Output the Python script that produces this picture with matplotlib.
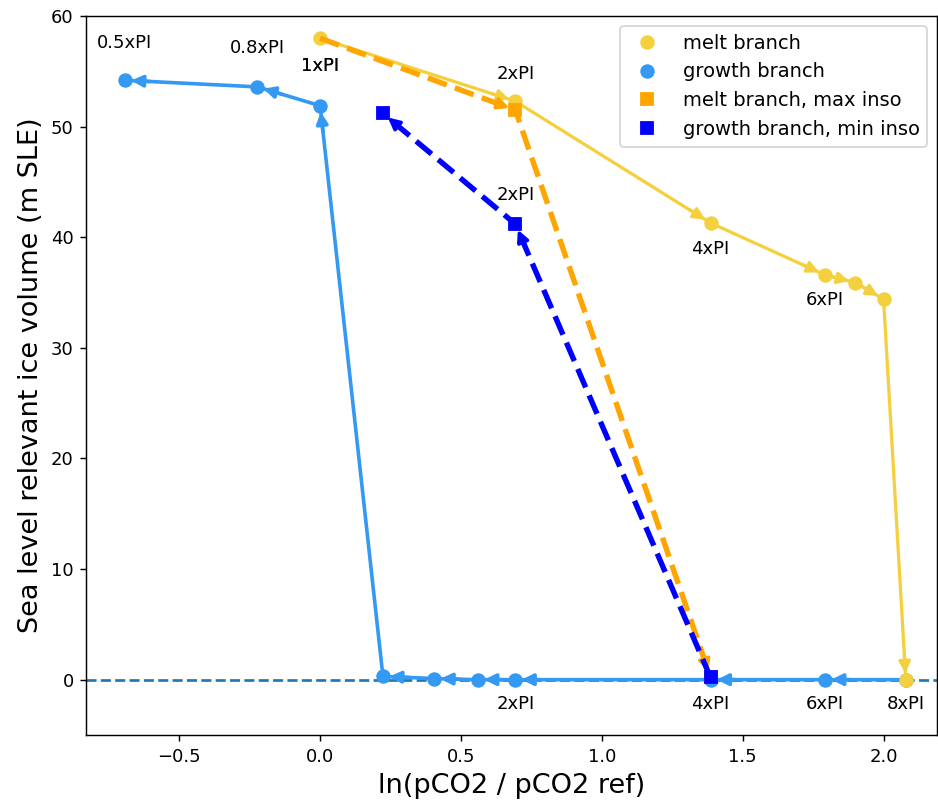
import numpy as np
import matplotlib.pyplot as plt
from matplotlib.lines import Line2D

# melt branch (increasing CO2)
melt_x = [0.0, 0.693, 1.386, 1.792, 1.90, 2.0, 2.079]
melt_y = [58.0, 52.3, 41.3, 36.6, 35.9, 34.4, 0.0]

# growth branch (decreasing CO2)
growth_x = [2.079, 1.792, 1.386, 0.693, 0.56, 0.405, 0.223, 0.0, -0.223, -0.693]
growth_y = [0.0, 0.0, 0.0, 0.0, 0.0, 0.1, 0.3, 51.9, 53.6, 54.2]

# melt branch with max insolation
melt_max_x = [0.0, 0.693, 1.386]
melt_max_y = [58.0, 51.5, 0.2]

# growth branch with min insolation
growth_min_x = [1.386, 0.693, 0.223]
growth_min_y = [0.2, 41.2, 51.2]

# point labels
melt_lab = ["1xPI", "2xPI", "4xPI", "6xPI"]
melt_lab_x = [0.0, 0.693, 1.386, 1.792]
melt_lab_y = [55.5, 54.8, 38.9, 34.3]
growth_lab = ["0.5xPI", "0.8xPI", "1xPI", "2xPI", "4xPI", "6xPI", "8xPI"]
growth_lab_x = [-0.693, -0.223, 0.0, 0.693, 1.386, 1.792, 2.079]
growth_lab_y = [57.6, 57.1, 55.5, -2.2, -2.2, -2.2, -2.2]
min_lab = ["2xPI"]
min_lab_x = [0.693]
min_lab_y = [43.8]

c_melt = "#f4d03f"
c_growth = "#3399f3"
c_melt_max = "orange"
c_growth_min = "blue"

dpi = 130
fig = plt.figure(figsize=(938 / dpi, 805 / dpi), dpi=dpi)
ax = fig.add_axes([0.092, 0.087, 0.907, 0.893])
ax.set_xlim(-0.83, 2.19)
ax.set_ylim(-5, 60)

ax.axhline(0, color="#1f77b4", ls="--", lw=1.5, zorder=1)

ax.plot(melt_x, melt_y, "-o", color=c_melt, lw=1.8, ms=7, zorder=3)
ax.plot(growth_x, growth_y, "-o", color=c_growth, lw=2, ms=7, zorder=2)
ax.plot(melt_max_x, melt_max_y, "--s", color=c_melt_max, lw=3, ms=7,
        markevery=[1, 2], zorder=4)
ax.plot(growth_min_x, growth_min_y, "--s", color=c_growth_min, lw=3, ms=7, zorder=5)


def arrows(xs, ys, color, lw, z):
    # small arrow heads at the end of every segment
    pts = ax.transData.transform(np.column_stack([xs, ys]))
    for i in range(len(xs) - 1):
        d = pts[i] - pts[i + 1]
        d = d / np.hypot(*d)
        ax.annotate("", xy=(xs[i + 1], ys[i + 1]), xytext=(d[0] * 14, d[1] * 14),
                    textcoords="offset points",
                    arrowprops=dict(arrowstyle="-|>", color=color, lw=lw,
                                    shrinkA=0, shrinkB=3.5, mutation_scale=13),
                    zorder=z)


arrows(melt_x, melt_y, c_melt, 1.8, 3)
arrows(growth_x, growth_y, c_growth, 2, 2)
arrows(melt_max_x, melt_max_y, c_melt_max, 2, 4)
arrows(growth_min_x, growth_min_y, c_growth_min, 2, 5)

for t, x, y in zip(melt_lab, melt_lab_x, melt_lab_y):
    ax.text(x, y, t, ha="center", va="center", fontsize=10)
for t, x, y in zip(growth_lab, growth_lab_x, growth_lab_y):
    ax.text(x, y, t, ha="center", va="center", fontsize=10)
for t, x, y in zip(min_lab, min_lab_x, min_lab_y):
    ax.text(x, y, t, ha="center", va="center", fontsize=10)

handles = [
    Line2D([], [], ls="", marker="o", ms=7, color=c_melt, label="melt branch"),
    Line2D([], [], ls="", marker="o", ms=7, color=c_growth, label="growth branch"),
    Line2D([], [], ls="", marker="s", ms=7, color=c_melt_max, label="melt branch, max inso"),
    Line2D([], [], ls="", marker="s", ms=7, color=c_growth_min, label="growth branch, min inso"),
]
ax.legend(handles=handles, loc="upper right", fontsize=10.8)

ax.set_xlabel("ln(pCO2 / pCO2 ref)", fontsize=15)
ax.set_ylabel("Sea level relevant ice volume (m SLE)", fontsize=15)

fig.savefig("out.png", dpi=dpi)
